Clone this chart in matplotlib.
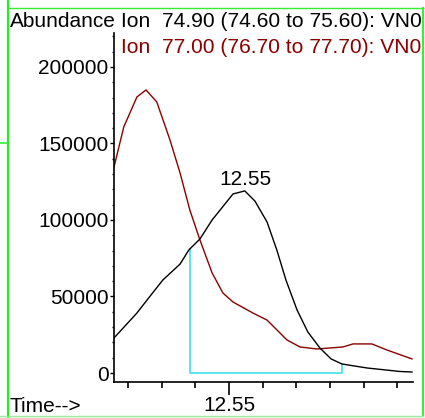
"""
Extracted ion chromatogram, two ions, with integration box
"""
import numpy as np
import matplotlib.pyplot as plt
from matplotlib.lines import Line2D

plt.rcParams['font.family'] = ['Liberation Sans', 'DejaVu Sans']
FS = 15

# Ion 74.90 trace (black)
time_74 = [12.5159, 12.5227, 12.5257, 12.5304, 12.5355, 12.5381, 12.5414, 12.5450,
           12.5512, 12.5547, 12.5577, 12.5613, 12.5642, 12.5669, 12.5702, 12.5734,
           12.5770, 12.5803, 12.5835, 12.5909, 12.6007, 12.6043]
abund_74 = [22900, 39200, 47700, 60800, 71200, 80400, 87600, 100000,
            117000, 119000, 112400, 98700, 80400, 60800, 41200, 26800,
            16300, 9200, 5900, 3300, 1000, 650]

# Ion 77.00 trace (dark red)
time_77 = [12.5159, 12.5188, 12.5227, 12.5254, 12.5286, 12.5325, 12.5355, 12.5384,
           12.5414, 12.5450, 12.5482, 12.5512, 12.5571, 12.5613, 12.5672, 12.5711,
           12.5761, 12.5838, 12.5868, 12.5924, 12.5969, 12.6043]
abund_77 = [134600, 160800, 180400, 185000, 177100, 152300, 130700, 106500,
            86900, 65400, 52300, 46400, 39200, 34600, 21600, 17000,
            15700, 17000, 19000, 19000, 15000, 9200]

# integration limits for ion 74.90
integ_start = 12.5384
integ_end = 12.5835
apex_label = '12.55'

header_black = 'Ion  74.90 (74.60 to 75.60): VN0'
header_red = 'Ion  77.00 (76.70 to 77.70): VN0'

fig = plt.figure(figsize=(4.25, 4.18), dpi=100)
ax = fig.add_axes([114/425, 1 - 382/418, (413 - 114)/425, (382 - 33)/418])

ax.plot(time_77, abund_77, color='#8B0000', lw=1.0)
ax.plot(time_74, abund_74, color='black', lw=1.0)

# integration box
h1 = np.interp(integ_start, time_74, abund_74)
h2 = np.interp(integ_end, time_74, abund_74)
ax.plot([integ_start, integ_start, integ_end, integ_end], [h1, 0, 0, h2],
        color='#40E0E8', lw=1.2, zorder=1)

# apex label
i_apex = int(np.argmax(abund_74))
ax.annotate(apex_label, (time_74[i_apex], abund_74[i_apex]), xytext=(0.7, 4.3),
            textcoords='offset points', ha='center', va='baseline', fontsize=FS)

ax.set_xlim(12.5159, 12.6046)
ax.set_ylim(-5880, 222200)

ax.spines['top'].set_visible(False)
ax.spines['right'].set_visible(False)
ax.spines['left'].set_linewidth(1.2)
ax.spines['bottom'].set_linewidth(1.2)

ax.set_xticks([12.55], labels=['12.55'])
ax.set_xticks([12.52, 12.53, 12.54, 12.56, 12.57, 12.58, 12.59, 12.60], minor=True)
ax.set_yticks([0, 50000, 100000, 150000, 200000],
              labels=['0', '50000', '100000', '150000', '200000'])
ax.set_yticks(np.arange(0, 220001, 10000), minor=True)

ax.tick_params(axis='x', which='major', length=9, width=1.2, labelsize=FS, pad=1)
ax.tick_params(axis='x', which='minor', length=4.5, width=1.2)
ax.tick_params(axis='y', which='major', length=3, width=1.0, labelsize=FS, pad=1)
ax.tick_params(axis='y', which='minor', length=1.5, width=1.0)

# header texts
fig.text(10/425, 1 - 27/418, 'Abundance', fontsize=FS, va='baseline')
fig.text(121/425, 1 - 27/418, header_black, fontsize=15.1, va='baseline')
fig.text(121/425, 1 - 53/418, header_red, fontsize=15.1, va='baseline',
         color='#8B0000')
fig.text(10/425, 1 - 412/418, 'Time-->', fontsize=FS, va='baseline')

# green frame
def px_line(xs, ys, color, lw):
    fig.add_artist(Line2D([x/425 for x in xs], [1 - y/418 for y in ys],
                          transform=fig.transFigure, color=color, lw=lw))

px_line([7.5, 7.5], [0, 418], '#22ee22', 1.6)
px_line([7.5, 423], [7.5, 7.5], '#33ee33', 1.0)
px_line([422.5, 422.5], [7.5, 416], '#33ee33', 1.4)
px_line([0, 423], [416, 416], '#99ee99', 1.0)
px_line([0, 7.5], [143, 143], '#33ee33', 1.2)

fig.savefig('out.png', dpi=100)
